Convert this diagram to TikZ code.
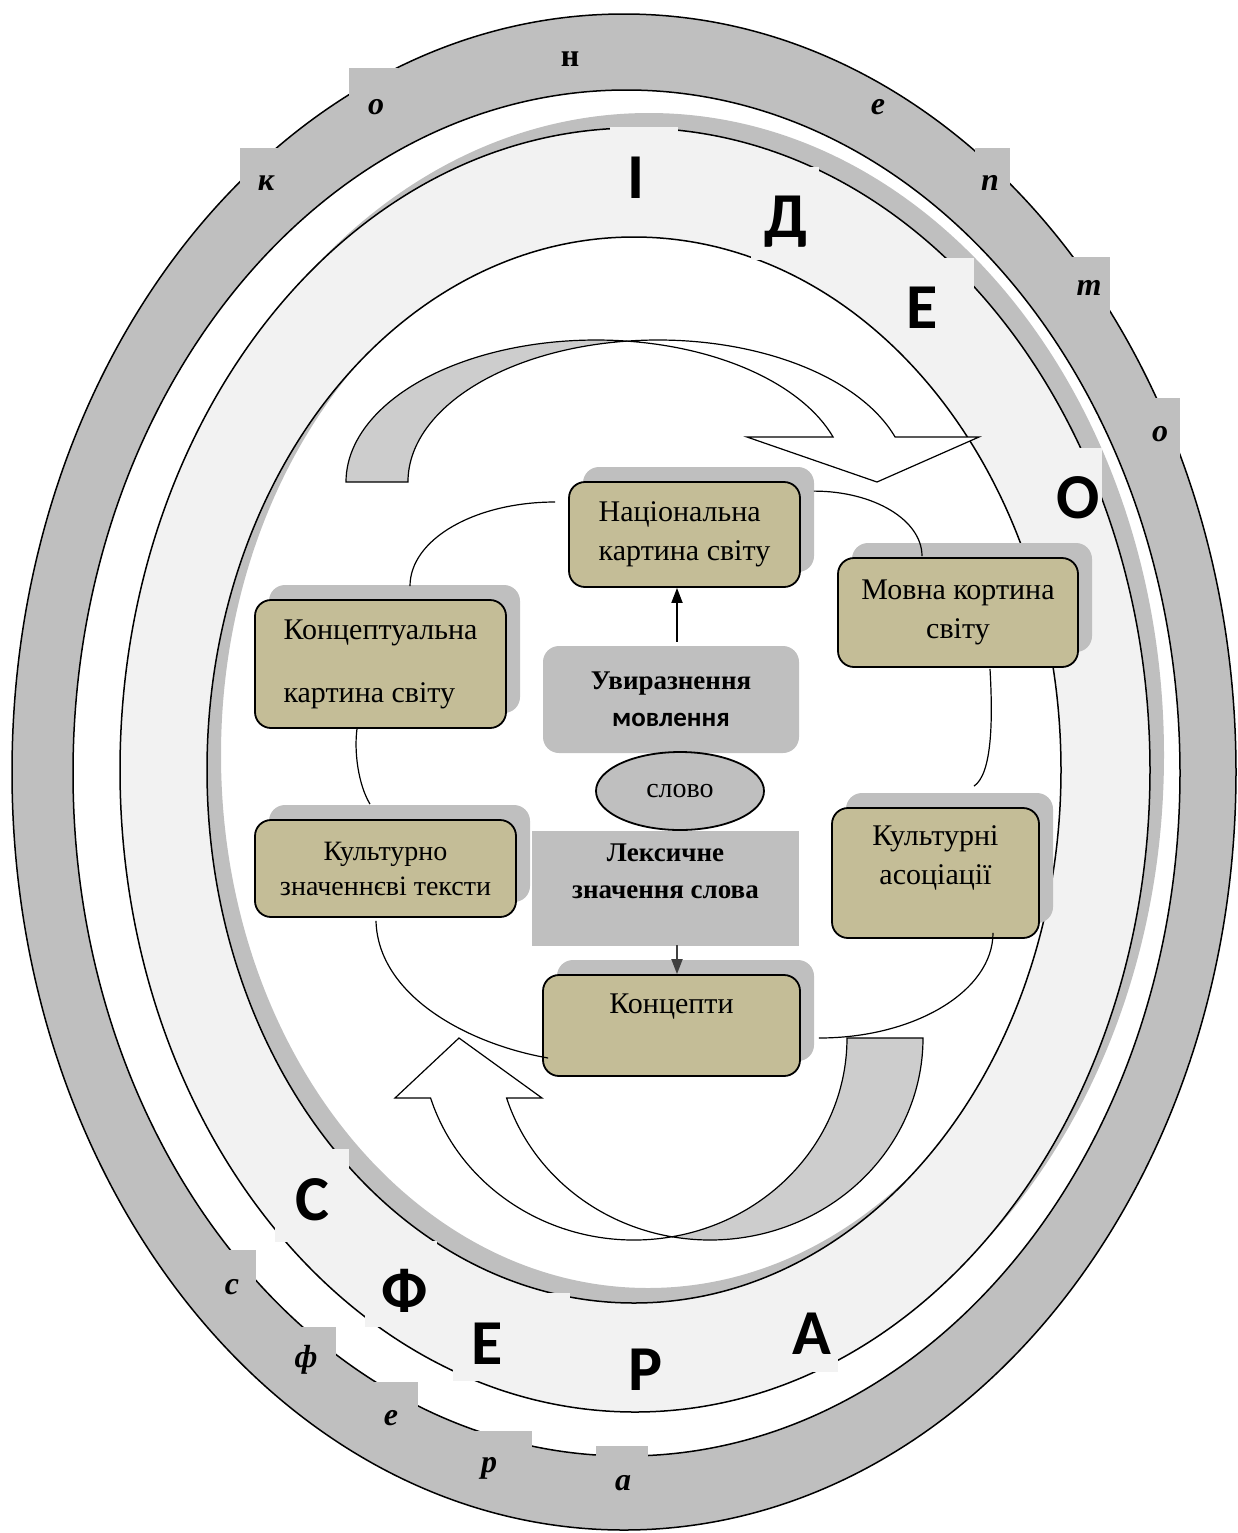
\documentclass[tikz,border=0pt]{standalone}
\usepackage{fontspec}
\setmainfont{Liberation Serif}
\newfontfamily\calfont{Carlito}
\usetikzlibrary{calc,shadows,arrows.meta,shapes.geometric}

\definecolor{ringgray}{HTML}{BFBFBF}
\definecolor{bandgray}{HTML}{F2F2F2}
\definecolor{khaki}{HTML}{C4BD97}
\definecolor{ribbon}{HTML}{CDCDCD}
\definecolor{darkarrow}{HTML}{404040}

\tikzset{
  cbox/.style={draw, line width=0.9pt, rounded corners=8pt, fill=khaki, inner sep=0pt,
    general shadow={fill=ringgray, shadow xshift=7pt, shadow yshift=7.5pt},
    font=\fontsize{15pt}{19.5pt}\selectfont},
  grbox/.style={fill=ringgray, inner sep=0pt, align=center,
    font=\bfseries\fontsize{13.5pt}{18.5pt}\selectfont},
  ringltr/.style={inner sep=0pt, font=\bfseries\itshape\fontsize{16pt}{16pt}\selectfont},
  bandltr/.style={inner sep=0pt, font=\calfont\bfseries\fontsize{32pt}{32pt}\selectfont},
  link/.style={line width=0.6pt},
  uparrow/.style={-{Triangle[length=7.5pt,width=5.5pt]}, line width=0.9pt}
}

\begin{document}
\begin{tikzpicture}[x=0.5pt, y=-0.5pt]
	%%%%% START %%%%%
	\useasboundingbox (0,0) rectangle (1238,1533);
	
	% outer ring
	\draw[fill=ringgray, even odd rule, line width=0.75pt] (624,772) ellipse [x radius=612, y radius=758] (626.5,773) ellipse [x radius=553.5, y radius=683];
	\fill[ringgray] (240,148) rectangle (290,220);
	\fill[ringgray] (349,68) rectangle (398,140);
	\fill[ringgray] (975,148) rectangle (1010,220);
	\fill[ringgray] (1062,257) rectangle (1110,318);
	\fill[ringgray] (1146,398) rectangle (1180,470);
	\fill[ringgray] (226,1250) rectangle (256,1320);
	\fill[ringgray] (298,1327) rectangle (336,1395);
	\fill[ringgray] (367,1382) rectangle (418,1450);
	\fill[ringgray] (471,1431) rectangle (532,1500);
	\fill[ringgray] (596,1446) rectangle (648,1515);
	
	% light band and its shadow
	\fill[ringgray, even odd rule] (649,755) ellipse [x radius=515, y radius=642] (648,755) ellipse [x radius=427, y radius=533];
	\draw[fill=bandgray, even odd rule, line width=0.75pt] (635,770) ellipse [x radius=515, y radius=642] (634,770) ellipse [x radius=427, y radius=533];
	\fill[bandgray] (610,127) rectangle (678,218);
	\fill[bandgray] (751,167) rectangle (819,260);
	\fill[bandgray] (890,258) rectangle (974,340);
	\fill[bandgray] (1046,448) rectangle (1102,548);
	\fill[bandgray] (275,1149) rectangle (349,1242);
	\fill[bandgray] (365,1241) rectangle (437,1327);
	\fill[bandgray] (453,1293) rectangle (570,1381);
	\fill[bandgray] (780,1290) rectangle (838,1372);
	
	\node[ringltr] (rk) at (266,183) {к};
	\node[ringltr] (ro1) at (376,107) {о};
	\node[ringltr, font=\bfseries\fontsize{16pt}{16pt}\selectfont] (rn) at (570,59) {н};
	\node[ringltr] (re1) at (878,107) {е};
	\node[ringltr] (rp) at (990,183) {п};
	\node[ringltr] (rt) at (1089,288) {т};
	\node[ringltr] (ro2) at (1160,434) {о};
	\node[ringltr] (rs) at (232,1287) {с};
	\node[ringltr] (rf) at (306,1360) {ф};
	\node[ringltr] (re2) at (391,1418) {е};
	\node[ringltr] (rr) at (489,1468) {р};
	\node[ringltr] (ra) at (623,1483) {а};
	
	\node[bandltr] (bI) at (636,178) {І};
	\node[bandltr] (bD) at (786,222) {Д};
	\node[bandltr] (bE1) at (922,308) {Е};
	\node[bandltr] (bO) at (1078,498) {О};
	\node[bandltr] (bS) at (312,1200) {С};
	\node[bandltr] (bF) at (405,1291) {Ф};
	\node[bandltr] (bE2) at (487,1344) {Е};
	\node[bandltr] (bR) at (646,1370) {Р};
	\node[bandltr] (bA) at (812,1334) {А};
	
	% curved arrows
	\draw[fill=ribbon, line width=0.6pt] (346,482) arc [start angle=180, end angle=277.12, x radius=250, y radius=142] arc [start angle=262.88, end angle=180, x radius=250, y radius=142] -- cycle;
	\draw[fill=white, line width=0.6pt] (627,341.1) arc [start angle=262.88, end angle=341.52, x radius=250, y radius=142] -- (979,437) -- (877,482) -- (747,437) -- (833.1,437) arc [start angle=341.52, end angle=277.12, x radius=250, y radius=142] -- cycle;
	
	\draw[fill=ribbon, line width=0.6pt] (847,1038) arc [start angle=0, end angle=79.72, x radius=213, y radius=202] arc [start angle=100.28, end angle=0, x radius=213, y radius=202] -- cycle;
	\draw[fill=white, line width=0.6pt] (672,1236.8) arc [start angle=100.28, end angle=162.72, x radius=213, y radius=202] -- (542,1098) -- (459,1038) -- (395,1098) -- (430.6,1098) arc [start angle=162.72, end angle=79.72, x radius=213, y radius=202] -- cycle;
	
	% boxes
	\node[cbox, minimum width=115.5pt, minimum height=52.5pt, align=left] (nat) at (684.5,534.5) {Національна\\картина світу};
	\node[cbox, minimum width=120pt, minimum height=54.5pt, align=center] (movna) at (958,612.5) {Мовна кортина\\світу};
	\node[cbox, minimum width=125.5pt, minimum height=64pt, align=left] (konc) at (380.5,664) {Концептуальна\\[12pt]картина світу};
	\node[cbox, minimum width=130.5pt, minimum height=48.5pt, align=center, font=\fontsize{14pt}{17.5pt}\selectfont] (tekst) at (385.5,868.5) {Культурно\\значеннєві тексти};
	\node[cbox, minimum width=103.5pt, minimum height=65pt, align=center] (asoc) at (935.5,873) {Культурні\\асоціації\\[-7.5pt]\strut};
	\node[cbox, minimum width=128.5pt, minimum height=50.5pt, align=center] (kcp) at (671.5,1025.5) {Концепти\\[-3.5pt]\strut};
	
	\node[grbox, rounded corners=8pt, minimum width=128pt, minimum height=53.5pt] (uvyr) at (671,699.5) {Увиразнення\\{\calfont\bfseries мовлення}};
	\node[grbox, minimum width=133.5pt, minimum height=57.5pt] (leks) at (665.5,888.5) {Лексичне\\значення слова\\[-6.5pt]\strut};
	\node[draw, ellipse, fill=ringgray, line width=0.9pt, minimum width=84pt, minimum height=39pt, inner sep=0pt, font=\fontsize{14pt}{17pt}\selectfont] (slovo) at (680,791) {слово};
	
	% links round the cycle
	\draw[link] ($(konc.north)+(29.5,-13)$) .. controls +(0,-47) and +(-80,0) .. ($(nat.west)+(-13,-32.5)$);
	\draw[link] ($(nat.north east)+(13,10)$) .. controls +(60,0) and +(0,-36) .. ($(movna.north)+(-36,-1)$);
	\draw[link] ($(movna.south)+(32,1)$) .. controls +(3,52) and +(18,-12) .. ($(asoc.north)+(38.5,-21)$);
	\draw[link] ($(asoc.south)+(57.5,-6)$) .. controls +(0,58) and +(96,0) .. ($(kcp.east)+(18,12.5)$);
	\draw[link] ($(kcp.west)+(6,32.5)$) .. controls +(-80,-14) and +(2,75) .. ($(tekst.south)+(-9.5,3)$);
	\draw[link] ($(tekst.north)+(-15.5,-15)$) .. controls +(-12,-20) and +(-3,22) .. ($(konc.south)+(-23.5,0)$);
	
	\draw[uparrow] ($(uvyr.north)+(6,-4)$) -- ($(nat.south)+(-7.5,0)$);
	\draw[uparrow, darkarrow] ($(leks.south)+(11.5,-1)$) -- ($(kcp.north)+(5.5,0)$);
	%%%%% END %%%%%
\end{tikzpicture}
\end{document}
